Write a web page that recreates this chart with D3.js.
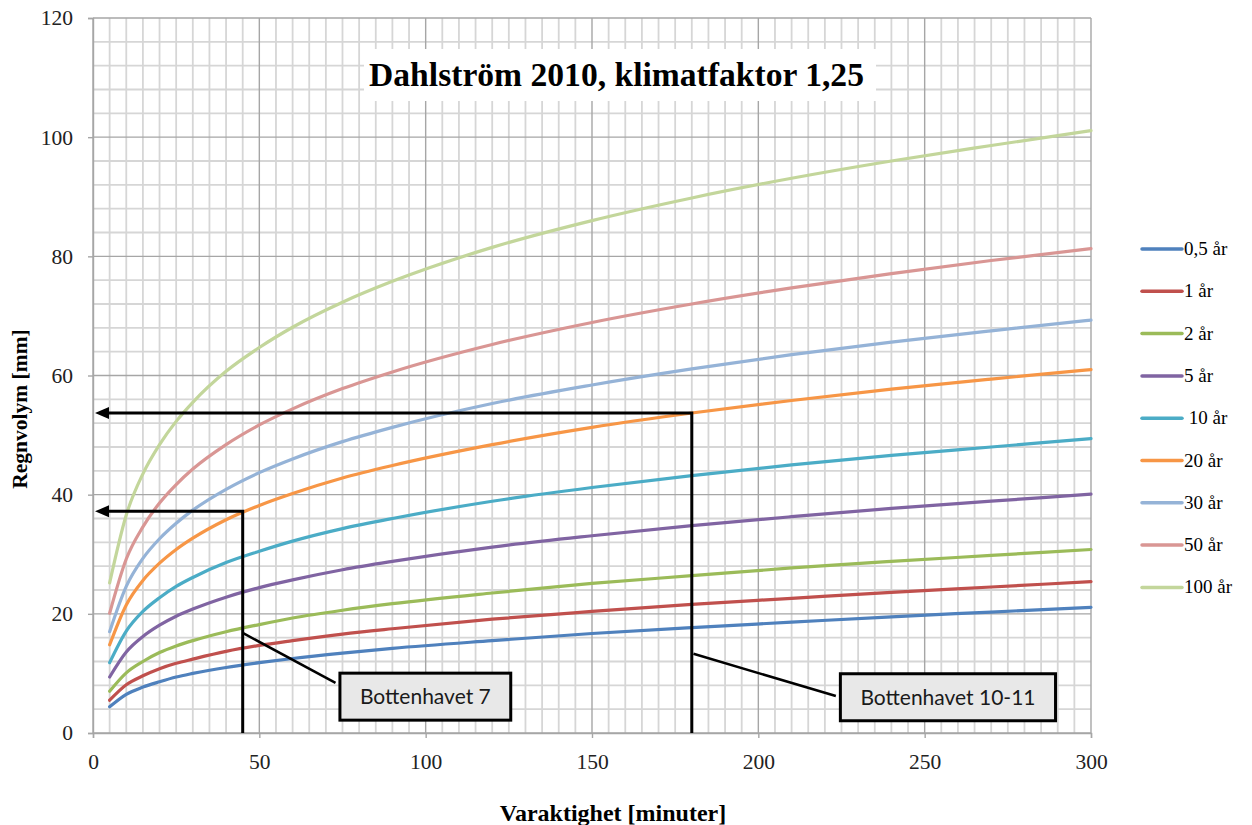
<!DOCTYPE html>
<html><head><meta charset="utf-8">
<script src="https://cdn.jsdelivr.net/npm/d3@7"></script>
<style>
html,body{margin:0;padding:0;background:#fff;}
svg{display:block;}
</style></head>
<body>
<svg id="chart" width="1252" height="825"></svg>
<script>
// ---- data ----
const durations = [5,10,15,20,25,30,40,50,60,75,90,120,150,180,210,240,270,300];
const seriesNames = ["0,5 år","1 år","2 år","5 år"," 10 år","20 år","30 år","50 år","100 år"];
const s05  = [4.4,6.5,7.7,8.6,9.4,10.0,11.0,11.8,12.5,13.4,14.2,15.5,16.7,17.7,18.6,19.5,20.3,21.1];
const s1   = [5.5,8.1,9.6,10.8,11.7,12.4,13.7,14.7,15.5,16.6,17.5,19.1,20.4,21.6,22.6,23.6,24.5,25.4];
const s2   = [7.0,10.1,12.0,13.5,14.6,15.5,17.0,18.2,19.3,20.6,21.7,23.5,25.1,26.4,27.7,28.8,29.8,30.8];
const s5   = [9.4,13.6,16.2,18.1,19.6,20.8,22.8,24.4,25.7,27.4,28.8,31.2,33.1,34.8,36.3,37.7,38.9,40.1];
const s10  = [11.8,17.1,20.4,22.7,24.6,26.1,28.6,30.5,32.2,34.3,36.0,38.9,41.2,43.2,45.0,46.6,48.0,49.4];
const s20  = [14.8,21.5,25.6,28.5,30.8,32.7,35.8,38.2,40.2,42.8,44.9,48.4,51.3,53.7,55.8,57.7,59.4,61.0];
const s30  = [17.0,24.6,29.3,32.6,35.2,37.4,40.9,43.7,46.0,48.9,51.3,55.3,58.4,61.1,63.5,65.6,67.5,69.3];
const s50  = [20.1,29.2,34.6,38.6,41.7,44.3,48.4,51.7,54.4,57.8,60.6,65.2,68.9,72.0,74.7,77.1,79.3,81.3];
const s100 = [25.2,36.6,43.5,48.4,52.3,55.5,60.7,64.7,68.1,72.3,75.8,81.5,86.0,89.8,93.1,96.0,98.6,101.1];
const seriesValues = [s05,s1,s2,s5,s10,s20,s30,s50,s100];
const seriesColors = ["#4F81BD","#C0504D","#9BBB59","#8064A2","#4BACC6","#F79646","#95B3D7","#D99694","#C3D69B"];
const xTicks = [0,50,100,150,200,250,300];
const yTicks = [0,20,40,60,80,100,120];
const titleText = "Dahlström 2010, klimatfaktor 1,25";
const xTitle = "Varaktighet [minuter]";
const yTitle = "Regnvolym [mm]";
// annotation readings: duration, volume at curve, label, connector ends, box centre (data units)
const annotLabels = ["Bottenhavet 7","Bottenhavet 10-11"];
const annotT = [45,180];
const annotV = [37.2,53.7];
const annotLinkFrom = [[45,16.8],[180.5,13.3]];
const annotLinkTo = [[72.9,8.4],[223.3,6.2]];
const annotBoxCenter = [[99.9,6.1],[257,6.0]];

// ---- layout ----
const svg = d3.select("#chart");
const x = d3.scaleLinear().domain([0,300]).range([93,1091]);
const y = d3.scaleLinear().domain([0,120]).range([733,18]);
const serif = "'Liberation Serif','Times New Roman',serif";
const sans = "Lato,'Open Sans',sans-serif";

svg.append("rect").attr("width",1252).attr("height",825).attr("fill","#fff");

const grid = svg.append("g");
const minorX = d3.range(5,300,5).filter(d=>d%50!==0);
const minorY = d3.range(4,120,4).filter(d=>d%20!==0);
grid.selectAll(".mx").data(minorX).join("line")
  .attr("x1",d=>x(d)).attr("x2",d=>x(d)).attr("y1",y(0)).attr("y2",y(120))
  .attr("stroke","#d6d6d6").attr("stroke-width",1.8);
grid.selectAll(".my").data(minorY).join("line")
  .attr("y1",d=>y(d)).attr("y2",d=>y(d)).attr("x1",x(0)).attr("x2",x(300))
  .attr("stroke","#d6d6d6").attr("stroke-width",1.8);
grid.selectAll(".Mx").data(xTicks).join("line")
  .attr("x1",d=>x(d)).attr("x2",d=>x(d)).attr("y1",y(0)).attr("y2",y(120))
  .attr("stroke","#a6a6a6").attr("stroke-width",1.4);
grid.selectAll(".My").data(yTicks).join("line")
  .attr("y1",d=>y(d)).attr("y2",d=>y(d)).attr("x1",x(0)).attr("x2",x(300))
  .attr("stroke","#a6a6a6").attr("stroke-width",1.4);

// axes
const yAxis = svg.append("g").attr("transform",`translate(${x(0)},0)`)
  .call(d3.axisLeft(y).tickValues(yTicks).tickSize(5).tickPadding(15).tickFormat(d3.format("d")));
const xAxis = svg.append("g").attr("transform",`translate(0,${y(0)})`)
  .call(d3.axisBottom(x).tickValues(xTicks).tickSize(5).tickPadding(16).tickFormat(d3.format("d")));
[xAxis,yAxis].forEach(g=>{
  g.select(".domain").attr("stroke","#a6a6a6").attr("stroke-width",1.4);
  g.selectAll(".tick line").attr("stroke","#a6a6a6").attr("stroke-width",1.4);
  g.selectAll(".tick text").attr("font-family",serif).attr("font-size",21.5).attr("fill","#222");
});

// title box
const tg = svg.append("g");
const tbox = tg.append("rect").attr("fill","#fff");
const tt = tg.append("text").text(titleText).attr("font-family",serif).attr("font-weight","bold")
  .attr("font-size",30).attr("fill","#000").attr("text-anchor","middle")
  .attr("x",(369+864)/2).attr("y",86);
let tw = tt.node().getComputedTextLength();
tt.attr("font-size",30*495/tw);
tbox.attr("x",364).attr("y",49).attr("width",512).attr("height",52);

// lines
const line = d3.line().x((d,i)=>x(durations[i])).y(d=>y(d)).curve(d3.curveMonotoneX);
svg.append("g").selectAll("path").data(seriesValues).join("path")
  .attr("d",d=>line(d)).attr("fill","none")
  .attr("stroke",(d,i)=>seriesColors[i]).attr("stroke-width",3.2).attr("stroke-linecap","round");

// annotations
const ag = svg.append("g");
annotT.forEach((t,i)=>{
  const v = annotV[i];
  const tip = x(0)+2;
  ag.append("path").attr("fill","none").attr("stroke","#000").attr("stroke-width",3)
    .attr("d",`M${x(t)},${y(0)}V${y(v)}H${tip+12}`);
  ag.append("path").attr("fill","#000")
    .attr("d",`M${tip},${y(v)}L${tip+14},${y(v)-6}L${tip+14},${y(v)+6}Z`);
  ag.append("line").attr("stroke","#000").attr("stroke-width",2.5)
    .attr("x1",x(annotLinkFrom[i][0])).attr("y1",y(annotLinkFrom[i][1]))
    .attr("x2",x(annotLinkTo[i][0])).attr("y2",y(annotLinkTo[i][1]));
  const cx = x(annotBoxCenter[i][0]), cy = y(annotBoxCenter[i][1]);
  const box = ag.append("rect").attr("fill","#e8e8e8").attr("stroke","#000").attr("stroke-width",3);
  const txt = ag.append("text").text(annotLabels[i]).attr("font-family",sans).attr("font-size",21)
    .attr("fill","#1a1a1a").attr("text-anchor","middle").attr("x",cx).attr("y",cy+7.5);
  const w = txt.node().getComputedTextLength();
  box.attr("x",cx-w/2-20).attr("y",cy-23.5).attr("width",w+40).attr("height",47);
});

// axis titles
svg.append("text").text(xTitle).attr("font-family",serif).attr("font-weight","bold")
  .attr("font-size",24).attr("text-anchor","middle").attr("x",613).attr("y",821).attr("fill","#000");
svg.append("text").text(yTitle).attr("font-family",serif).attr("font-weight","bold")
  .attr("font-size",21.5).attr("text-anchor","middle")
  .attr("transform","translate(27,409) rotate(-90)").attr("fill","#000");

// legend
const lg = svg.append("g");
seriesNames.forEach((n,i)=>{
  const yy = 249 + i*42.3;
  lg.append("line").attr("x1",1142).attr("x2",1182).attr("y1",yy).attr("y2",yy)
    .attr("stroke",seriesColors[i]).attr("stroke-width",3.5).attr("stroke-linecap","round");
  lg.append("text").text(n).attr("x",1184).attr("y",yy+6).attr("font-family",serif)
    .attr("font-size",19).attr("fill","#000").style("white-space","pre");
});
</script>
</body></html>
